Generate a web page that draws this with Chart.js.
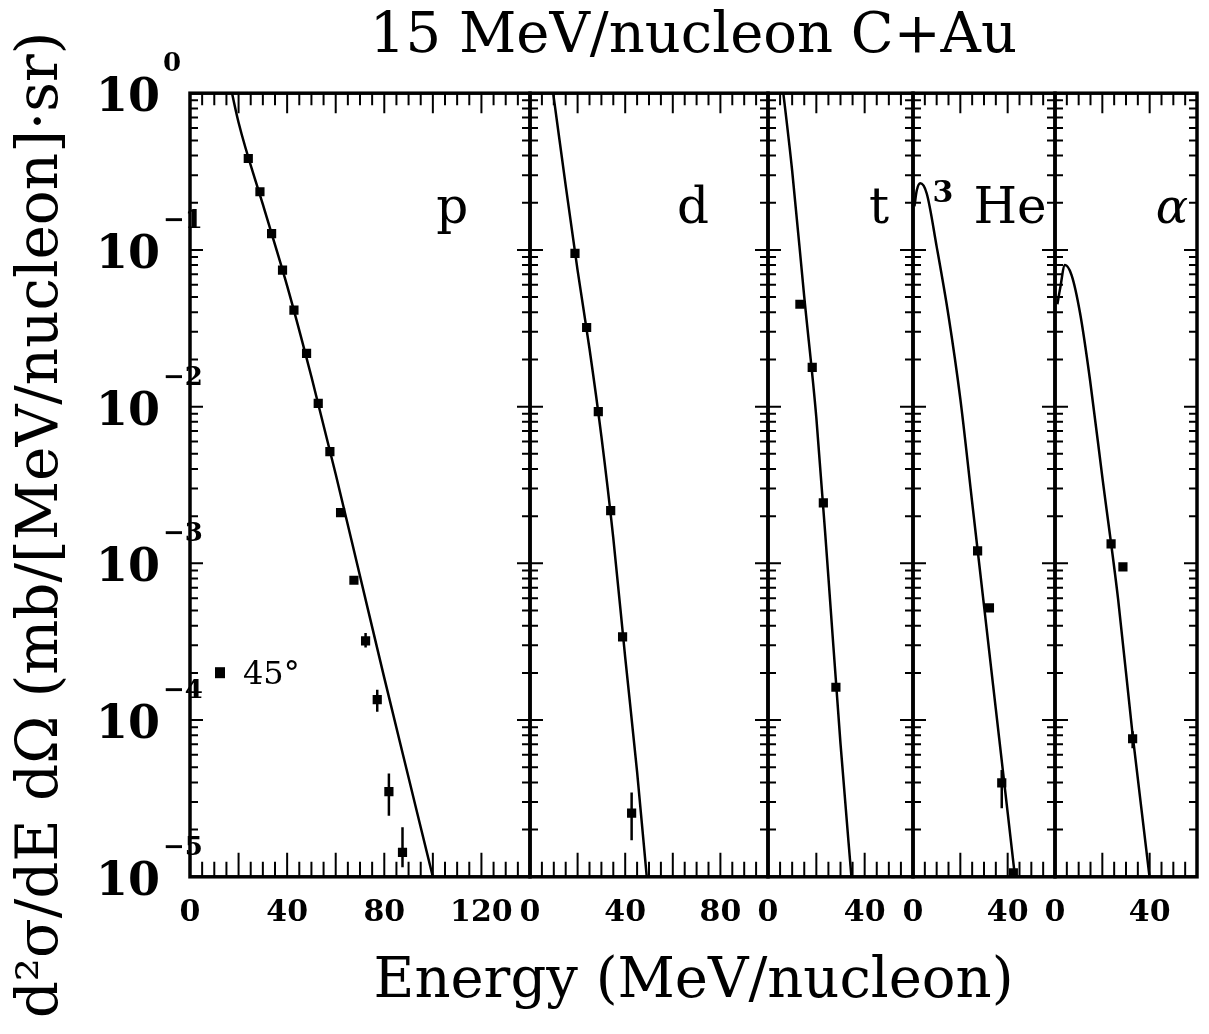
<!DOCTYPE html>
<html>
<head>
<meta charset="utf-8">
<script src="https://cdn.jsdelivr.net/npm/chart.js@4.4.1/dist/chart.umd.min.js"></script>
<style>
  body { margin: 0; background: #fff; }
</style>
</head>
<body>
<canvas id="myChart" width="1209" height="1034"></canvas>
<script>
// axes
const xMax = [140, 100, 60, 60, 60];
const xTickLabels = [[0, 40, 80, 120], [0, 40, 80], [0, 40], [0, 40], [0, 40]];
const yDecades = [0, -1, -2, -3, -4, -5];

// measured cross sections at 45 deg
const pE = [24.0, 28.8, 33.6, 38.1, 42.8, 48.0, 52.8, 57.6, 62.0, 67.5, 72.3, 77.1, 81.9, 87.5];
const pY = [0.383, 0.235, 0.127, 0.0743, 0.0413, 0.0219, 0.0105, 0.00516, 0.00211, 7.8e-4, 3.2e-4, 1.35e-4, 3.5e-5, 1.43e-5];
const pLo = [null, null, null, null, null, null, null, null, null, null, 2.9e-4, 1.13e-4, 2.45e-5, 1.15e-5];
const pHi = [null, null, null, null, null, null, null, null, null, null, 3.6e-4, 1.56e-4, 4.57e-5, 2.07e-5];

const dE = [18.9, 23.8, 28.7, 33.9, 38.9, 42.7];
const dY = [0.095, 0.032, 0.0093, 0.00217, 3.4e-4, 2.55e-5];
const dLo = [null, null, null, null, null, 1.71e-5];
const dHi = [null, null, null, null, null, 3.45e-5];

const tE = [13.2, 18.3, 22.9, 28.1];
const tY = [0.045, 0.0178, 0.00243, 1.62e-4];
const tLo = [null, null, null, null];
const tHi = [null, null, null, null];

const heE = [27.3, 32.3, 37.5, 42.4];
const heY = [1.2e-3, 5.2e-4, 3.98e-5, 1.06e-5];
const heLo = [null, null, 2.74e-5, null];
const heHi = [null, null, 4.8e-5, null];

const aE = [23.7, 28.7, 32.8];
const aY = [1.33e-3, 9.5e-4, 7.6e-5];
const aLo = [null, null, 6.6e-5];
const aHi = [null, null, 8.5e-5];

// model curves
const pFitE = [15, 20, 30, 40, 50, 60, 70, 80, 90, 100, 101];
const pFitY = [1.48, 0.65, 0.195, 0.059, 0.0155, 0.0037, 8.3e-4, 1.86e-4, 4.3e-5, 1.0e-5, 8.7e-6];
const dFitE = [9, 10, 15, 20, 25, 30, 35, 40, 45, 49, 50];
const dFitY = [1.20, 0.933, 0.257, 0.0741, 0.0234, 0.00646, 0.00145, 2.51e-4, 4.68e-5, 1.02e-5, 6.9e-6];
const tFitE = [5, 10, 15, 20, 25, 30, 35];
const tFitY = [1.50, 0.320, 0.0501, 0.00851, 8.13e-4, 7.08e-5, 8.13e-6];
const heFitE = [0.6, 1.6, 3.1, 5.8, 10, 15, 20, 25, 30, 35, 40, 44];
const heFitY = [0.19, 0.24, 0.266, 0.229, 0.105, 0.038, 0.0112, 0.00245, 5.37e-4, 1.175e-4, 2.57e-5, 7.6e-6];
const aFitE = [1.0, 2.1, 4.2, 7, 10.6, 14.8, 20, 26.7, 32.8, 40, 41];
const aFitY = [0.045, 0.056, 0.080, 0.069, 0.0394, 0.0148, 0.00355, 5.85e-4, 8.05e-5, 9.8e-6, 7.1e-6];

const panelWidths = [340, 238, 145, 142, 142];
const serif = '"DejaVu Serif", serif';

const sets = [
  { id: "xp", E: pE, Y: pY, lo: pLo, hi: pHi, fitE: pFitE, fitY: pFitY, label: "p", labelE: 108 },
  { id: "xd", E: dE, Y: dY, lo: dLo, hi: dHi, fitE: dFitE, fitY: dFitY, label: "d", labelE: 68.5 },
  { id: "xt", E: tE, Y: tY, lo: tLo, hi: tHi, fitE: tFitE, fitY: tFitY, label: "t", labelE: 46 },
  { id: "xh", E: heE, Y: heY, lo: heLo, hi: heHi, fitE: heFitE, fitY: heFitY, label: "He", labelE: 41 },
  { id: "xa", E: aE, Y: aY, lo: aLo, hi: aHi, fitE: aFitE, fitY: aFitY, label: "\u03b1", labelE: 49.4 },
];

function pairs(E, Y) {
  return E.map((e, i) => ({ x: e, y: Y[i] }));
}
function bars(E, lo, hi) {
  const out = [];
  E.forEach((e, i) => {
    if (lo[i] == null) return;
    out.push({ x: e, y: lo[i] }, { x: e, y: hi[i] }, { x: e, y: null });
  });
  return out;
}

const datasets = [];
const scales = {
  y: {
    type: "logarithmic",
    position: "left",
    min: 1e-5,
    max: 1,
    ticks: { display: false },
    grid: { display: false, drawTicks: false },
    border: { display: false },
    afterFit: function (s) {
      s.width = 190;
    },
  },
};

sets.forEach((s, i) => {
  datasets.push({
    type: "line",
    data: pairs(s.fitE, s.fitY),
    xAxisID: s.id,
    yAxisID: "y",
    borderColor: "#000",
    borderWidth: 2.5,
    pointRadius: 0,
    cubicInterpolationMode: "monotone",
    clip: 0,
  });
  datasets.push({
    type: "line",
    data: bars(s.E, s.lo, s.hi),
    xAxisID: s.id,
    yAxisID: "y",
    borderColor: "#000",
    borderWidth: 2.5,
    pointRadius: 0,
    spanGaps: false,
  });
  datasets.push({
    type: "scatter",
    data: pairs(s.E, s.Y),
    xAxisID: s.id,
    yAxisID: "y",
    pointStyle: "rect",
    pointRadius: 6.5,
    backgroundColor: "#000",
    borderColor: "#000",
    borderWidth: 0,
  });
  scales[s.id] = {
    type: "linear",
    position: "bottom",
    stack: "energy",
    stackWeight: panelWidths[i],
    min: 0,
    max: xMax[i],
    grid: { display: false, drawTicks: false },
    border: { display: false },
    ticks: {
      autoSkip: false,
      maxRotation: 0,
      padding: 18,
      color: "#000",
      font: { family: serif, size: 30, weight: "bold" },
    },
    afterBuildTicks: function (sc) {
      sc.ticks = xTickLabels[i].map((v) => ({ value: v }));
    },
    // labels at the panel edges must not shrink the plot
    afterFit: function (sc) {
      sc.paddingLeft = 0;
      sc.paddingRight = 0;
    },
  };
});

const framePlugin = {
  id: "frames",
  afterDraw(chart) {
    const ctx = chart.ctx;
    const ys = chart.scales.y;
    const area = chart.chartArea;
    const top = area.top;
    const bottom = area.bottom;
    ctx.save();
    ctx.strokeStyle = "#000";
    ctx.fillStyle = "#000";

    sets.forEach((s, i) => {
      const xs = chart.scales[s.id];
      const l = xs.left;
      const r = xs.right;
      ctx.lineWidth = 2;
      ctx.beginPath();
      yDecades.forEach((d) => {
        for (let m = 1; m <= 9; m++) {
          if (d === 0 && m > 1) break;
          const py = ys.getPixelForValue(m * Math.pow(10, d));
          const len = m === 1 ? 13 : 8;
          ctx.moveTo(l, py);
          ctx.lineTo(l + len, py);
          ctx.moveTo(r, py);
          ctx.lineTo(r - len, py);
        }
      });
      for (let v = 5; v < xMax[i]; v += 5) {
        const px = xs.getPixelForValue(v);
        const major = v % 20 === 0;
        ctx.moveTo(px, bottom);
        ctx.lineTo(px, bottom - (major ? 24 : 15));
        ctx.moveTo(px, top);
        ctx.lineTo(px, top + (major ? 20 : 12));
      }
      ctx.stroke();
      ctx.lineWidth = 3.5;
      ctx.strokeRect(l, top, r - l, bottom - top);

      // panel label
      const lx = xs.getPixelForValue(s.labelE);
      ctx.textBaseline = "alphabetic";
      ctx.textAlign = "center";
      if (s.id === "xa") {
        ctx.font = "italic 48px " + serif;
      } else {
        ctx.font = "50px " + serif;
      }
      ctx.fillText(s.label, lx, top + 130);
      if (s.id === "xh") {
        const w = ctx.measureText(s.label).width;
        ctx.font = "bold 30px " + serif;
        ctx.textAlign = "right";
        ctx.fillText("3", lx - w / 2 - 20, top + 109);
      }
    });

    // y tick labels: 10 with a raised exponent
    ctx.textBaseline = "alphabetic";
    yDecades.forEach((d) => {
      const py = ys.getPixelForValue(Math.pow(10, d));
      ctx.font = "bold 46px " + serif;
      ctx.textAlign = "right";
      ctx.fillText("10", area.left - 30, py + 18);
      ctx.font = "bold 26px " + serif;
      ctx.textAlign = "left";
      ctx.fillText(d === 0 ? "0" : "\u2212" + -d, area.left - 27, py - 22);
    });

    // y title
    ctx.save();
    ctx.translate(42, 525);
    ctx.rotate(-Math.PI / 2);
    ctx.font = "58px " + serif;
    ctx.textAlign = "center";
    ctx.textBaseline = "middle";
    ctx.fillText("d\u00b2\u03c3/dE d\u03a9 (mb/[MeV/nucleon]\u00b7sr)", 0, 0);
    ctx.restore();

    // legend
    ctx.fillRect(area.left + 25, top + 574, 10, 11);
    ctx.font = "32px " + serif;
    ctx.textAlign = "left";
    ctx.textBaseline = "alphabetic";
    ctx.fillText("45\u00b0", area.left + 53, top + 591);

    ctx.restore();
  },
};

const config = {
  type: "line",
  data: { datasets: datasets },
  options: {
    responsive: false,
    animation: false,
    layout: { padding: { left: 0, right: 12, top: 0, bottom: 0 } },
    plugins: {
      legend: { display: false },
      tooltip: { enabled: false },
      title: {
        display: true,
        text: "15 MeV/nucleon C+Au",
        color: "#000",
        fullSize: false,
        font: { family: serif, size: 56, weight: "normal" },
        padding: { top: 4, bottom: 22 },
      },
      subtitle: {
        display: true,
        position: "bottom",
        text: "Energy (MeV/nucleon)",
        color: "#000",
        fullSize: false,
        font: { family: serif, size: 56, weight: "normal" },
        padding: { top: 0, bottom: 18 },
      },
    },
    scales: scales,
  },
  plugins: [framePlugin],
};

let myChart = new Chart(document.getElementById("myChart"), config);
</script>
</body>
</html>
